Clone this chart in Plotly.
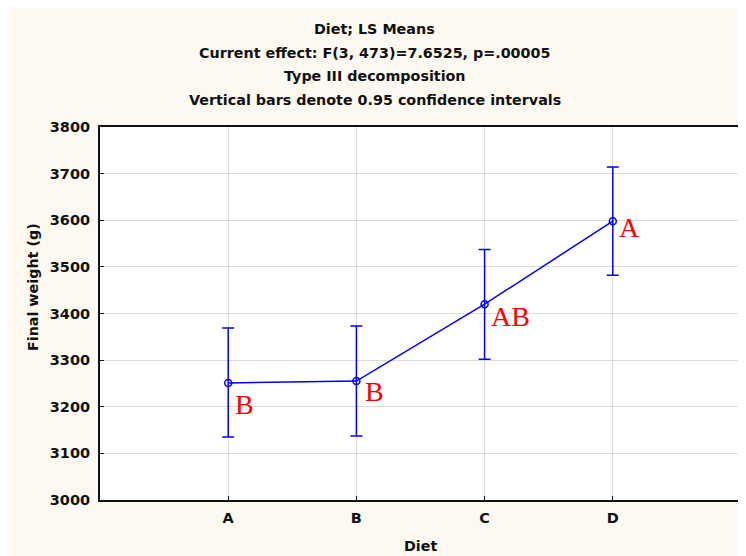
import plotly.graph_objects as go

diets = ["A", "B", "C", "D"]
means = [3251, 3255, 3420, 3598]
upper = [3369, 3373, 3537, 3714]
lower = [3135, 3137, 3302, 3482]
letters = ["B", "B", "AB", "A"]
y_ticks = [3000, 3100, 3200, 3300, 3400, 3500, 3600, 3700, 3800]
title_lines = [
    "Diet; LS Means",
    "Current effect: F(3, 473)=7.6525, p=.00005",
    "Type III decomposition",
    "Vertical bars denote 0.95 confidence intervals",
]

err_plus = [u - m for u, m in zip(upper, means)]
err_minus = [m - l for m, l in zip(means, lower)]
xpos = list(range(len(diets)))

FONT = "DejaVu Sans"
fig = go.Figure()
fig.add_trace(go.Scatter(
    x=xpos, y=means, mode="lines+markers",
    line=dict(color="#0000FF", width=1.5),
    marker=dict(symbol="circle-open", size=7, color="#0000FF", line=dict(width=1.5)),
    error_y=dict(type="data", symmetric=False, array=err_plus, arrayminus=err_minus,
                 color="#0000FF", thickness=1.5, width=6),
    showlegend=False,
))

offsets = [(16, -22), (18, -10), (26, -12), (17, -6)]
for x, m, t, (dx, dy) in zip(xpos, means, letters, offsets):
    fig.add_annotation(x=x, y=m, text=t, showarrow=False, xshift=dx, yshift=dy,
                       xanchor="center", yanchor="middle",
                       font=dict(family="Liberation Serif", size=28, color="#FF0000"))

# plot area in page pixels: left 100, right 741, top 127, bottom 500
PW, PH = 641, 373
line_y = [29, 53, 76, 100]
for txt, py in zip(title_lines, line_y):
    fig.add_annotation(x=(374.5 - 100) / PW, y=(500 - py) / PH, xref="paper", yref="paper",
                       xanchor="center", yanchor="middle", showarrow=False, text=f"<b>{txt}</b>",
                       font=dict(family=FONT, size=14.3, color="#111"))
fig.add_annotation(x=(420 - 100) / PW, y=-(546 - 500) / PH, xref="paper", yref="paper",
                   xanchor="center", yanchor="middle", showarrow=False, text="<b>Diet</b>",
                   font=dict(family=FONT, size=14.3, color="#111"))
fig.add_annotation(x=-(100 - 33) / PW, y=(500 - 287) / PH, xref="paper", yref="paper",
                   xanchor="center", yanchor="middle", showarrow=False, textangle=-90,
                   text="<b>Final weight (g)</b>",
                   font=dict(family=FONT, size=14.3, color="#111"))

fig.update_layout(
    width=746, height=556,
    margin=dict(l=92, r=13, t=119, b=64),
    paper_bgcolor="#FDF9F0", plot_bgcolor="#FFFFFF",
    font=dict(family=FONT, size=14.5, color="#111"),
)
fig.update_xaxes(
    range=[-1, 4], tickvals=xpos, ticktext=[f"<b>{d}</b>" for d in diets],
    showgrid=True, gridcolor="#DCDCDC", gridwidth=1,
    showline=True, linecolor="#111", linewidth=2, mirror=True,
    ticks="inside", ticklen=4, tickcolor="#111", zeroline=False,
    ticklabelstandoff=4,
)
fig.update_yaxes(
    range=[3000, 3800], tickvals=y_ticks, ticktext=[f"<b>{v}</b>" for v in y_ticks],
    showgrid=True, gridcolor="#DCDCDC", gridwidth=1,
    showline=True, linecolor="#111", linewidth=2, mirror=True,
    ticks="inside", ticklen=4, tickcolor="#111", zeroline=False,
    ticklabelstandoff=5,
)
fig.write_html("out.html")
